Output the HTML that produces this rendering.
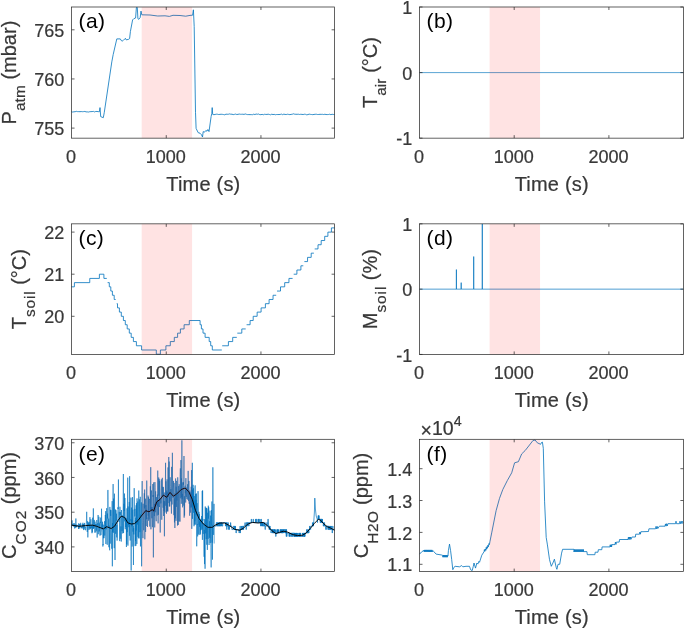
<!DOCTYPE html>
<html><head><meta charset="utf-8"><title>Figure</title>
<style>
html,body{margin:0;padding:0;background:#fff}
svg{display:block;will-change:transform}
text{font-family:"Liberation Sans",Arial,Helvetica,sans-serif;fill:#383838}
.tk{font-size:18px;stroke:#383838;stroke-width:.22px}
.lb{font-size:20px;stroke:#383838;stroke-width:.22px}
.sb{font-size:15.4px}
.pl{font-size:21px;fill:#000;letter-spacing:0.4px}
</style></head><body>
<svg width="685" height="629" viewBox="0 0 685 629">
<rect width="685" height="629" fill="#fff"/>
<polyline points="71.5,111.7 72.71,112.06 73.93,111.79 75.14,111.72 76.35,111.33 77.57,111.64 78.78,111.63 79.99,111.68 81.2,111.57 82.42,111.69 83.63,111.6 84.84,111.44 86.06,111.88 87.27,111.88 88.48,112.04 89.7,111.71 90.91,111.62 92.12,111.59 93.33,111.39 94.55,111.9 95.76,111.48 96.97,111.46 98.19,111.66 99.4,111.7 100,107.6 100.7,116.6 103.3,117.7 104.3,112.3 111.8,61.9 113.2,54.5 116.8,38.9 120.3,38.9 121.3,40.6 122.2,41.1 123.3,40.4 125.4,38.3 126.2,39.9 128.6,39.3 129.6,38.6 130.4,31.5 132.6,19.9 133.8,18.7 135.6,18 136.4,7.5 137.3,7.5 137.9,18.7 138.8,19.3 140.2,17.5 141,11.1 141.7,14.6 141.7,14.8 150,15 157.7,16 165,15.8 169.4,16.4 173,15.3 180,15.5 185.7,16.2 190,15.4 192.6,15.2 193.4,9.8 194.2,26.5 195.5,112.3 196.1,128.4 198.2,132.7 200,133.2 201.5,134.8 202.5,137 203.2,131.6 204.5,132.2 205.8,130.5 207,131.2 207.9,129.5 209,131.6 211.1,116.6 211.8,113.4 212.2,107.6 212.7,114.4 213.91,114.7 215.11,114.45 216.32,114.2 217.52,114.26 218.73,114.53 219.94,114.37 221.14,114.25 222.35,114.35 223.55,114.55 224.76,114.8 225.97,114.15 227.17,114.27 228.38,114.24 229.58,113.92 230.79,114.22 232,114.2 233.2,114.62 234.41,114.37 235.61,114.08 236.82,114.53 238.02,114.33 239.23,114.05 240.44,114.28 241.64,114.28 242.85,114.23 244.05,114.41 245.26,113.95 246.47,114.35 247.67,114.6 248.88,114.57 250.08,114.62 251.29,114.62 252.5,114.7 253.7,114.18 254.91,114.57 256.11,114.03 257.32,114.28 258.53,114.02 259.73,114.61 260.94,114.67 262.14,114.36 263.35,114.75 264.56,114.27 265.76,114.43 266.97,114.43 268.17,114.19 269.38,114.49 270.59,114.79 271.79,114.2 273,114.58 274.2,114.37 275.41,114.75 276.61,114.5 277.82,114.54 279.03,114.53 280.23,114.45 281.44,114.12 282.64,114.68 283.85,114.13 285.06,114.45 286.26,114.52 287.47,114.23 288.67,114.43 289.88,114.63 291.09,114.4 292.29,114.22 293.5,113.82 294.7,114.21 295.91,114.28 297.12,114.3 298.32,114.21 299.53,114.48 300.73,114.29 301.94,114.38 303.15,114.54 304.35,114.23 305.56,114.34 306.76,114.83 307.97,114.57 309.18,114.14 310.38,114.38 311.59,114.51 312.79,114.65 314,114.43 315.2,114.29 316.41,114.25 317.62,114.53 318.82,114.46 320.03,114.3 321.23,114.36 322.44,114.32 323.65,114.54 324.85,114.26 326.06,114.5 327.26,114.57 328.47,114.5 329.68,114.23 330.88,114.67 332.09,114.26 333.29,114.49 334.5,114.4" fill="none" stroke="#0072BD" stroke-width="0.8" stroke-linejoin="round" />
<polyline points="419.5,72.6 683.4,72.6" fill="none" stroke="#0072BD" stroke-width="0.65" stroke-linejoin="round" />
<polyline points="71.5,286.84 74.4,286.84 74.4,282.63 89.75,282.63 89.75,278.42 99.4,278.42 99.4,274.21 103.9,274.21 103.9,278.42 106.8,278.42" fill="none" stroke="#0072BD" stroke-width="0.8" stroke-linejoin="round" stroke-linejoin="miter"/>
<polyline points="107.6,282.63 109.3,282.63 109.3,286.84 110.8,286.84 110.8,291.05 112.4,291.05 112.4,295.26 114.2,295.26 114.2,299.47 115.7,299.47" fill="none" stroke="#0072BD" stroke-width="0.8" stroke-linejoin="round" stroke-linejoin="miter"/>
<polyline points="116.7,303.68 117.5,303.68 117.5,307.89 119.4,307.89 119.4,312.1 121.3,312.1 121.3,316.31 123.4,316.31 123.4,320.52 125.3,320.52 125.3,324.73 127.2,324.73 127.2,328.94 129.3,328.94 129.3,333.15 131.2,333.15 131.2,337.36 133.4,337.36 133.4,341.57 136.4,341.57 136.4,345.78 141.6,345.78 141.6,349.99 156.3,349.99 156.3,354.2 160.4,354.2 160.4,349.99 165.9,349.99 165.9,345.78 170.3,345.78 170.3,341.57 174.3,341.57 174.3,337.36 177.6,337.36 177.6,333.15 180.4,333.15 180.4,328.94 184.1,328.94 184.1,324.73 189.3,324.73 189.3,320.52 200.1,320.52 200.1,324.73 201.4,324.73 201.4,328.94 203,328.94 203,333.15 205.1,333.15 205.1,337.36 209.2,337.36 209.2,341.57 210.7,341.57 210.7,345.78 212.3,345.78 212.3,349.99 221.8,349.99" fill="none" stroke="#0072BD" stroke-width="0.8" stroke-linejoin="round" stroke-linejoin="miter"/>
<polyline points="222.2,345.78 228.4,345.78 228.4,341.57 232.7,341.57 232.7,337.36 236.8,337.36" fill="none" stroke="#0072BD" stroke-width="0.8" stroke-linejoin="round" stroke-linejoin="miter"/>
<polyline points="237.3,333.15 241.8,333.15 241.8,328.94 245.7,328.94" fill="none" stroke="#0072BD" stroke-width="0.8" stroke-linejoin="round" stroke-linejoin="miter"/>
<polyline points="246.6,324.73 250.1,324.73 250.1,320.52 253.2,320.52 253.2,316.31 257.15,316.31 257.15,312.1 261.1,312.1 261.1,307.89 265.4,307.89 265.4,303.68 269.1,303.68 269.1,299.47 273.05,299.47 273.05,295.26 276.2,295.26" fill="none" stroke="#0072BD" stroke-width="0.8" stroke-linejoin="round" stroke-linejoin="miter"/>
<polyline points="277,291.05 280.5,291.05 280.5,286.84 284.7,286.84 284.7,282.63 288.95,282.63 288.95,278.42 292.6,278.42" fill="none" stroke="#0072BD" stroke-width="0.8" stroke-linejoin="round" stroke-linejoin="miter"/>
<polyline points="293.7,274.21 296.9,274.21 296.9,270 300.9,270 300.9,265.79 303.3,265.79" fill="none" stroke="#0072BD" stroke-width="0.8" stroke-linejoin="round" stroke-linejoin="miter"/>
<polyline points="304.4,261.58 307.55,261.58 307.55,257.37 311.2,257.37 311.2,253.16 313.9,253.16" fill="none" stroke="#0072BD" stroke-width="0.8" stroke-linejoin="round" stroke-linejoin="miter"/>
<polyline points="314.7,248.95 318,248.95 318,244.74 321.2,244.74 321.2,240.53 324.7,240.53 324.7,236.32 327.9,236.32 327.9,232.11 331.4,232.11 331.4,227.9 334.5,227.9" fill="none" stroke="#0072BD" stroke-width="0.8" stroke-linejoin="round" stroke-linejoin="miter"/>
<polyline points="419.6,289.15 456.35,289.15 456.4,269.59 456.45,289.15 461.15,289.15 461.2,282.63 461.25,289.15 473.65,289.15 473.7,256.55 473.75,289.15 482.25,289.15 482.3,223.95 482.35,289.15 683.4,289.15" fill="none" stroke="#0072BD" stroke-width="0.7" stroke-linejoin="round" />
<polyline points="71.5,528.26 71.69,524.61 71.88,524.28 72.07,520.38 72.26,525.21 72.45,524.67 72.64,524.31 72.83,525.89 73.02,526.12 73.21,523.43 73.4,523.78 73.59,524.57 73.78,526.74 73.97,526.53 74.16,523.12 74.35,523.49 74.54,526.96 74.73,528.54 74.92,525.6 75.11,524.41 75.3,527.76 75.49,525.17 75.68,527.13 75.87,518.5 76.06,527.02 76.25,526.01 76.44,527.28 76.63,524.72 76.82,525.63 77.01,524.91 77.2,525.64 77.39,525.13 77.58,525.73 77.77,525.39 77.96,526.32 78.15,526.3 78.34,526.77 78.53,528.92 78.72,523.31 78.91,528.78 79.1,525.82 79.29,523.89 79.48,525.65 79.67,526.4 79.86,528.26 80.05,524.13 80.24,526.58 80.43,526.37 80.62,522.85 80.81,523.79 81,527.25 81.19,527.42 81.38,528.17 81.57,527.07 81.76,527.39 81.95,526.22 82.14,528.34 82.33,524.28 82.52,525.64 82.71,526.66 82.9,522.76 83.09,528.46 83.28,524.27 83.47,525.68 83.66,530.09 83.85,524.13 84.04,524.68 84.23,529.37 84.42,522.92 84.61,524.47 84.8,527.3 84.99,527.21 85.18,527.68 85.37,526.9 85.56,530.23 85.75,529.09 85.94,527.63 86.13,523.2 86.32,523.07 86.51,518.91 86.7,511.8 86.89,519.15 87.08,528.56 87.27,531.93 87.46,521.74 87.65,521.15 87.84,537.4 88.03,528.35 88.22,522.36 88.41,524.93 88.6,523.52 88.79,524.47 88.98,529.94 89.17,521.9 89.36,525.58 89.55,526.28 89.74,528.37 89.93,517.16 90.12,529.27 90.31,526.82 90.5,528.39 90.69,525.48 90.88,519.27 91.07,522.84 91.26,528.15 91.45,525.3 91.64,524.97 91.83,531.68 92.02,533.19 92.21,524.97 92.4,532.23 92.59,517.84 92.78,517.67 92.97,528.49 93.16,524.36 93.35,508.4 93.54,528.87 93.73,525.16 93.92,528.08 94.11,526.6 94.3,519.91 94.49,526.52 94.68,527 94.87,532.69 95.06,521.6 95.25,526.02 95.44,524.35 95.63,525.5 95.82,532.35 96.01,527.56 96.2,524.09 96.39,527 96.58,530.66 96.77,520 96.96,524.55 97.15,537.57 97.34,532.79 97.53,526.29 97.72,523.13 97.91,525.61 98.1,514.98 98.29,534.21 98.48,529.66 98.67,528.16 98.86,516.75 99.05,521.42 99.24,531.5 99.43,529.49 99.62,523.28 99.81,531.78 100,535.61 100.19,521.82 100.38,523.09 100.57,520.13 100.76,517.58 100.95,535.12 101.14,532.66 101.33,531.21 101.52,508.72 101.71,518.45 101.9,527.68 102.09,524.45 102.28,529.62 102.47,521.74 102.66,535.03 102.85,546.51 103.04,544.22 103.23,545.07 103.42,529.61 103.61,538.22 103.8,524.73 103.99,538.12 104.18,524.39 104.37,523.06 104.56,521.22 104.75,535.56 104.94,530.87 105.13,529.79 105.32,514.99 105.51,529.08 105.7,511.15 105.89,544 106.08,525.61 106.27,529.23 106.46,525.64 106.65,508.19 106.84,510.57 107.03,526.5 107.22,544.79 107.41,513.52 107.6,518.48 107.79,490.6 107.98,489.95 108.17,506.19 108.36,522.21 108.55,526.87 108.74,518.63 108.93,547.22 109.12,525.55 109.31,532.42 109.5,548.69 109.69,550.3 109.88,506.92 110.07,523.03 110.26,543.62 110.45,509.79 110.64,515.92 110.83,510.97 111.02,510.15 111.21,513.25 111.4,530.75 111.59,545.36 111.78,548.76 111.97,528.15 112.16,501.15 112.35,566.3 112.54,522.99 112.73,532.28 112.92,524.22 113.11,484.06 113.3,532.76 113.49,498.61 113.68,517.37 113.87,531.01 114.06,531.42 114.25,548.16 114.44,493.67 114.63,530.79 114.82,535.34 115.01,560 115.2,534.03 115.39,509.47 115.58,533.7 115.77,531.74 115.96,510.14 116.15,514.23 116.34,520.6 116.53,513.72 116.72,537.37 116.91,524.8 117.1,540.61 117.29,538.35 117.48,522.26 117.67,518.33 117.86,507.29 118.05,509.03 118.24,508.82 118.43,479.5 118.62,507.13 118.81,521.46 119,521.94 119.19,511.87 119.38,516.03 119.57,539.02 119.76,541.13 119.95,506.75 120.14,514.87 120.33,512.08 120.52,513.2 120.71,538.74 120.9,526.39 121.09,534.3 121.28,541.55 121.47,510.02 121.66,513.7 121.85,517.01 122.04,531.13 122.23,515.28 122.42,525.85 122.61,533.36 122.8,533.36 122.99,523.22 123.18,505.68 123.37,474 123.56,533.04 123.75,523.63 123.94,503.84 124.13,510.07 124.32,510.94 124.51,493.55 124.7,521.31 124.89,497.96 125.08,514.14 125.27,529.19 125.46,517.59 125.65,527 125.84,525.59 126.03,520.68 126.22,520.88 126.41,547.02 126.6,518.36 126.79,544.3 126.98,508.39 127.17,532.11 127.36,524.46 127.55,511.94 127.74,477.64 127.93,545.64 128.12,506.51 128.31,509.31 128.5,524.95 128.69,523.98 128.88,527.2 129.07,519.67 129.26,501.98 129.45,535.77 129.64,476.2 129.83,526.73 130.02,531.79 130.21,540.51 130.4,520.63 130.59,519.45 130.78,520.54 130.97,497.62 131.16,570.5 131.35,509.7 131.54,507.62 131.73,526.32 131.92,519.49 132.11,546.56 132.3,545 132.49,497.13 132.68,525.56 132.87,509.6 133.06,531.66 133.25,525.99 133.44,565 133.63,528.11 133.82,534.46 134.01,519.43 134.2,488.15 134.39,506.85 134.58,511.44 134.77,516.44 134.96,508.9 135.15,546.12 135.34,520.51 135.53,541.02 135.72,517.78 135.91,545.74 136.1,505.31 136.29,530.53 136.48,503.16 136.67,527.98 136.86,543.94 137.05,498.41 137.24,508.99 137.43,524.55 137.62,518.32 137.81,501.52 138,536.83 138.19,521.04 138.38,538.22 138.57,524.26 138.76,490.55 138.95,512.51 139.14,538.4 139.33,499.31 139.52,506.8 139.71,526.65 139.9,532.2 140.09,529.31 140.28,496.81 140.47,546.41 140.66,514.63 140.85,516.85 141.04,516.38 141.23,512.92 141.42,502.41 141.61,566.3 141.8,533.94 141.99,496.21 142.18,481.05 142.37,522.24 142.56,522.97 142.75,532.47 142.94,538.15 143.13,503.73 143.32,516.08 143.51,520.38 143.7,530.29 143.89,527.19 144.08,500.95 144.27,493.29 144.46,508.42 144.65,489.56 144.84,539.34 145.03,506.03 145.22,506.34 145.41,498.7 145.6,531.97 145.79,514.72 145.98,505.07 146.17,526.03 146.36,509.74 146.55,519.21 146.74,480.6 146.93,507.44 147.12,518.26 147.31,517.85 147.5,526.99 147.69,519.58 147.88,511.87 148.07,495.59 148.26,515.62 148.45,497.16 148.64,520.72 148.83,512.56 149.02,519.36 149.21,504.49 149.4,500.48 149.59,498.83 149.78,526.55 149.97,508.15 150.16,505.37 150.35,486.27 150.54,510.02 150.73,467.18 150.92,529.32 151.11,507.1 151.3,510.6 151.49,490.51 151.68,494.97 151.87,518.27 152.06,506.95 152.25,515.61 152.44,527.16 152.63,519.04 152.82,484 153.01,496.85 153.2,495.02 153.39,557.4 153.58,482.52 153.77,482.42 153.96,499.86 154.15,501.29 154.34,516.07 154.53,503.91 154.72,527.38 154.91,482.06 155.1,487.48 155.29,512.22 155.48,501.72 155.67,491.29 155.86,514.92 156.05,518.74 156.24,521.22 156.43,497.1 156.62,501.92 156.81,504.83 157,502.35 157.19,515.49 157.38,494.53 157.57,506.26 157.76,470.58 157.95,511.3 158.14,523.35 158.33,500.27 158.52,514.79 158.71,477.48 158.9,495.65 159.09,478.86 159.28,504.37 159.47,507.04 159.66,480.83 159.85,487.91 160.04,491.36 160.23,532.55 160.42,497.93 160.61,500.35 160.8,503.41 160.99,502.3 161.18,494.66 161.37,479.37 161.56,488.1 161.75,519.73 161.94,500.5 162.13,491.59 162.32,477.84 162.51,495.46 162.7,496.42 162.89,486.75 163.08,507.78 163.27,487.14 163.46,492.8 163.65,516.01 163.84,500.89 164.03,510.97 164.22,492.47 164.41,536.3 164.6,502.33 164.79,501.29 164.98,512.47 165.17,501.86 165.36,496.03 165.55,462.8 165.74,505.68 165.93,481.34 166.12,494.94 166.31,492.43 166.5,513.7 166.69,490.61 166.88,511.68 167.07,479.33 167.26,495.1 167.45,510.89 167.64,492.31 167.83,511.5 168.02,467.41 168.21,495.43 168.4,497 168.59,492.76 168.78,457.03 168.97,503.11 169.16,461.55 169.35,506.43 169.54,497.1 169.73,506.4 169.92,489.02 170.11,477.22 170.3,480.02 170.49,486.56 170.68,501.41 170.87,489.09 171.06,499.31 171.25,500.48 171.44,513.6 171.63,466.87 171.82,488.91 172.01,504.19 172.2,504.44 172.39,452.8 172.58,491.76 172.77,494.34 172.96,497.66 173.15,488.33 173.34,487.46 173.53,480.91 173.72,490.96 173.91,515.17 174.1,482.9 174.29,509.1 174.48,522.43 174.67,498.43 174.86,528.01 175.05,493.5 175.24,518.28 175.43,494.58 175.62,478.44 175.81,499.8 176,520.87 176.19,486.7 176.38,506.91 176.57,480.87 176.76,482.28 176.95,500.55 177.14,491.56 177.33,501.71 177.52,525.56 177.71,477.34 177.9,483.94 178.09,493.84 178.28,524.96 178.47,488.42 178.66,486.08 178.85,498.59 179.04,521.43 179.23,484.24 179.42,487.88 179.61,493.62 179.8,502.17 179.99,521.64 180.18,474.27 180.37,468.38 180.56,493.27 180.75,498.31 180.94,460.06 181.13,482.18 181.32,503.76 181.51,478.4 181.7,497.11 181.89,440.3 182.08,499.32 182.27,496.27 182.46,493.85 182.65,507.36 182.84,482.42 183.03,491.81 183.22,505.6 183.41,482.29 183.6,484.84 183.79,479.53 183.98,456 184.17,517.64 184.36,496.21 184.55,515.52 184.74,499.69 184.93,490.61 185.12,485.61 185.31,493.21 185.5,489.83 185.69,502.52 185.88,478.15 186.07,492.67 186.26,496.92 186.45,487.57 186.64,487.74 186.83,498.7 187.02,499.03 187.21,490.1 187.4,491.52 187.59,484.24 187.78,499.74 187.97,490.61 188.16,470.88 188.35,488.33 188.54,501.23 188.73,496.82 188.92,480.92 189.11,503.64 189.3,502.25 189.49,502.7 189.68,515.71 189.87,490.55 190.06,503.81 190.25,492.39 190.44,509.89 190.63,512.68 190.82,503.84 191.01,507.76 191.2,486.76 191.39,506.89 191.58,470.1 191.77,528.87 191.96,515.37 192.15,478.83 192.34,462.8 192.53,518.79 192.72,489.72 192.91,509.57 193.1,484.82 193.29,504.27 193.48,488.31 193.67,512.75 193.86,500.54 194.05,526.22 194.24,495.96 194.43,524.63 194.62,507.42 194.81,521.31 195,486.98 195.19,485.4 195.38,524.63 195.57,493.89 195.76,506.57 195.95,507.26 196.14,499.69 196.33,515.31 196.52,493.54 196.71,546.3 196.9,526.51 197.09,503.17 197.28,524.87 197.47,524.21 197.66,536.4 197.85,522.2 198.04,491.15 198.23,507.86 198.42,511.56 198.61,534.57 198.8,522.84 198.99,511.8 199.18,524.75 199.37,514.07 199.56,526.77 199.75,521.55 199.94,534.95 200.13,524.53 200.32,533.87 200.51,520.24 200.7,530.43 200.89,518.77 201.08,529.97 201.27,524.42 201.46,519.87 201.65,516.03 201.84,518.28 202.03,528.81 202.22,490.96 202.41,539.85 202.6,490.39 202.79,520.62 202.98,518.94 203.17,533.9 203.36,527.2 203.55,523.52 203.74,525.41 203.93,537.42 204.12,556.78 204.31,529.86 204.5,564.1 204.69,519.17 204.88,535.43 205.07,568.72 205.26,506.5 205.45,516.33 205.64,533.35 205.83,530.24 206.02,507.69 206.21,539.11 206.4,508.07 206.59,522.67 206.78,544.73 206.97,508.45 207.16,522.01 207.35,549.9 207.54,523.45 207.73,512.73 207.92,519.28 208.11,538.82 208.3,505.69 208.49,518.57 208.68,507.2 208.87,511.34 209.06,545.03 209.25,526.14 209.44,521.24 209.63,537.78 209.82,517.44 210.01,510.69 210.2,543.1 210.39,539.4 210.58,515.61 210.77,537 210.96,547.41 211.15,567.4 211.34,534.19 211.53,510.16 211.72,525.44 211.91,501.47 212.1,542.64 212.29,524.9 212.48,559.6 212.67,516.41 212.86,467.3 213.05,505.13 213.24,521.05 213.43,533.79 213.62,534.83 213.81,525.32 214,503.87 214.19,543.51" fill="none" stroke="#0072BD" stroke-width="0.6" stroke-linejoin="round" />
<polyline points="214.2,526.07 216.1,526.07 216.29,526.07 216.29,522.6 216.67,522.6 216.86,522.6 216.86,526.07 217.05,526.07 217.05,522.6 217.24,522.6 217.24,526.07 217.62,526.07 217.81,526.07 217.81,522.6 218,522.6 218,526.07 218.19,526.07 218.19,522.6 218.38,522.6 218.57,522.6 218.57,526.07 219.14,526.07 219.33,526.07 219.33,522.6 219.52,522.6 219.52,526.07 219.71,526.07 219.71,522.6 219.9,522.6 219.9,526.07 220.28,526.07 220.47,526.07 220.47,522.6 220.66,522.6 220.85,522.6 220.85,526.07 221.04,526.07 221.04,522.6 221.42,522.6 221.61,522.6 221.61,526.07 221.8,526.07 221.8,522.6 221.99,522.6 221.99,526.07 222.56,526.07 222.75,526.07 222.75,522.6 225.22,522.6 225.41,522.6 225.41,526.07 225.6,526.07 225.6,522.6 225.79,522.6 225.98,522.6 225.98,526.07 226.36,526.07 226.55,526.07 226.55,522.6 226.74,522.6 226.74,529.54 226.93,529.54 226.93,522.6 227.12,522.6 227.12,526.07 227.88,526.07 228.07,526.07 228.07,522.6 228.26,522.6 228.26,526.07 228.45,526.07 228.64,526.07 228.64,529.54 228.83,529.54 228.83,526.07 229.02,526.07 229.21,526.07 229.21,529.54 229.4,529.54 229.4,526.07 230.35,526.07 230.54,526.07 230.54,522.6 230.73,522.6 230.73,526.07 231.68,526.07 231.87,526.07 231.87,529.54 233.39,529.54 233.58,529.54 233.58,526.07 233.77,526.07 233.96,526.07 233.96,529.54 234.34,529.54 234.53,529.54 234.53,526.07 234.72,526.07 234.91,526.07 234.91,529.54 235.1,529.54 235.29,529.54 235.29,526.07 235.48,526.07 235.48,529.54 235.86,529.54 236.05,529.54 236.05,533.01 236.24,533.01 236.24,529.54 238.9,529.54 239.09,529.54 239.09,533.01 239.28,533.01 239.28,529.54 239.85,529.54 240.04,529.54 240.04,526.07 240.23,526.07 240.23,533.01 240.42,533.01 240.42,529.54 241.18,529.54 241.37,529.54 241.37,526.07 241.56,526.07 241.56,529.54 241.94,529.54 242.13,529.54 242.13,526.07 242.32,526.07 242.51,526.07 242.51,529.54 243.08,529.54 243.27,529.54 243.27,526.07 243.46,526.07 243.46,529.54 243.65,529.54 243.65,526.07 244.79,526.07 244.98,526.07 244.98,522.6 245.17,522.6 245.17,526.07 245.93,526.07 246.12,526.07 246.12,529.54 246.31,529.54 246.31,522.6 246.69,522.6 246.88,522.6 246.88,526.07 247.07,526.07 247.07,522.6 247.45,522.6 247.64,522.6 247.64,526.07 247.83,526.07 247.83,522.6 248.59,522.6 248.78,522.6 248.78,526.07 248.97,526.07 248.97,522.6 251.06,522.6 251.25,522.6 251.25,519.12 251.44,519.12 251.44,522.6 252.96,522.6 253.15,522.6 253.15,519.12 253.34,519.12 253.34,522.6 255.24,522.6 255.43,522.6 255.43,519.12 255.62,519.12 255.62,522.6 256.19,522.6 256.38,522.6 256.38,519.12 256.57,519.12 256.76,519.12 256.76,522.6 257.9,522.6 258.09,522.6 258.09,519.12 258.28,519.12 258.28,522.6 258.47,522.6 258.66,522.6 258.66,519.12 258.85,519.12 258.85,522.6 259.61,522.6 259.8,522.6 259.8,519.12 259.99,519.12 259.99,522.6 260.37,522.6 260.56,522.6 260.56,526.07 260.75,526.07 260.75,522.6 260.94,522.6 261.13,522.6 261.13,519.12 261.32,519.12 261.32,526.07 261.51,526.07 261.51,522.6 262.08,522.6 262.27,522.6 262.27,526.07 262.46,526.07 262.46,522.6 262.65,522.6 262.65,526.07 262.84,526.07 262.84,522.6 263.22,522.6 263.41,522.6 263.41,526.07 263.98,526.07 264.17,526.07 264.17,522.6 264.36,522.6 264.36,526.07 264.55,526.07 264.74,526.07 264.74,522.6 264.93,522.6 265.12,522.6 265.12,529.54 265.31,529.54 265.31,526.07 266.64,526.07 266.83,526.07 266.83,522.6 267.02,522.6 267.21,522.6 267.21,526.07 267.78,526.07 267.97,526.07 267.97,519.12 268.16,519.12 268.16,522.6 268.35,522.6 268.35,526.07 268.92,526.07 269.11,526.07 269.11,529.54 269.3,529.54 269.3,526.07 269.49,526.07 269.68,526.07 269.68,529.54 269.87,529.54 269.87,526.07 270.06,526.07 270.06,529.54 270.82,529.54 271.01,529.54 271.01,533.01 271.2,533.01 271.2,529.54 272.15,529.54 272.34,529.54 272.34,533.01 272.53,533.01 272.53,529.54 272.72,529.54 272.72,533.01 272.91,533.01 272.91,529.54 273.1,529.54 273.1,533.01 273.48,533.01 273.67,533.01 273.67,529.54 273.86,529.54 273.86,533.01 274.05,533.01 274.24,533.01 274.24,529.54 274.43,529.54 274.43,533.01 274.62,533.01 274.62,529.54 274.81,529.54 274.81,533.01 275,533.01 275.19,533.01 275.19,529.54 275.38,529.54 275.38,533.01 275.57,533.01 275.76,533.01 275.76,536.48 275.95,536.48 275.95,533.01 276.71,533.01 276.9,533.01 276.9,529.54 277.09,529.54 277.09,533.01 277.28,533.01 277.28,529.54 277.47,529.54 277.47,533.01 277.66,533.01 277.85,533.01 277.85,529.54 278.04,529.54 278.04,533.01 278.23,533.01 278.42,533.01 278.42,529.54 278.61,529.54 278.61,533.01 279.75,533.01 279.94,533.01 279.94,529.54 280.32,529.54 280.51,529.54 280.51,533.01 280.7,533.01 280.7,529.54 280.89,529.54 280.89,533.01 281.08,533.01 281.27,533.01 281.27,529.54 281.46,529.54 281.46,533.01 281.65,533.01 281.84,533.01 281.84,529.54 282.03,529.54 282.03,533.01 282.22,533.01 282.41,533.01 282.41,529.54 282.6,529.54 282.6,533.01 282.79,533.01 282.98,533.01 282.98,529.54 283.17,529.54 283.17,533.01 283.36,533.01 283.36,529.54 283.74,529.54 283.93,529.54 283.93,533.01 284.12,533.01 284.12,529.54 284.88,529.54 285.07,529.54 285.07,533.01 285.26,533.01 285.26,529.54 285.45,529.54 285.45,533.01 285.83,533.01 286.02,533.01 286.02,529.54 286.21,529.54 286.21,536.48 286.4,536.48 286.4,529.54 286.59,529.54 286.59,533.01 286.78,533.01 286.78,536.48 286.97,536.48 286.97,533.01 288.87,533.01 289.06,533.01 289.06,536.48 289.25,536.48 289.25,533.01 289.44,533.01 289.44,536.48 289.63,536.48 289.63,533.01 290.39,533.01 290.58,533.01 290.58,536.48 290.96,536.48 291.15,536.48 291.15,533.01 291.53,533.01 291.72,533.01 291.72,536.48 291.91,536.48 292.1,536.48 292.1,533.01 292.29,533.01 292.29,536.48 292.48,536.48 292.48,533.01 293.62,533.01 293.81,533.01 293.81,536.48 294,536.48 294,533.01 294.19,533.01 294.19,536.48 294.38,536.48 294.38,533.01 294.57,533.01 294.57,536.48 294.76,536.48 294.76,533.01 294.95,533.01 294.95,536.48 295.14,536.48 295.14,533.01 295.33,533.01 295.33,536.48 295.71,536.48 295.9,536.48 295.9,533.01 296.09,533.01 296.09,536.48 296.28,536.48 296.28,533.01 296.47,533.01 296.47,536.48 296.66,536.48 296.85,536.48 296.85,533.01 297.04,533.01 297.04,536.48 297.23,536.48 297.23,533.01 297.42,533.01 297.42,536.48 298.56,536.48 298.75,536.48 298.75,533.01 298.94,533.01 298.94,536.48 299.13,536.48 299.32,536.48 299.32,533.01 299.51,533.01 299.51,536.48 299.7,536.48 299.7,533.01 300.08,533.01 300.27,533.01 300.27,536.48 300.46,536.48 300.46,533.01 300.65,533.01 300.65,536.48 302.17,536.48 302.36,536.48 302.36,533.01 302.55,533.01 302.55,536.48 302.74,536.48 302.93,536.48 302.93,533.01 303.12,533.01 303.31,533.01 303.31,536.48 303.69,536.48 303.88,536.48 303.88,533.01 304.07,533.01 304.07,536.48 304.26,536.48 304.26,533.01 304.45,533.01 304.45,536.48 304.64,536.48 304.64,533.01 304.83,533.01 304.83,536.48 305.02,536.48 305.02,533.01 306.54,533.01 306.73,533.01 306.73,529.54 306.92,529.54 306.92,533.01 307.11,533.01 307.11,529.54 307.3,529.54 307.3,533.01 308.06,533.01 308.25,533.01 308.25,529.54 308.44,529.54 308.63,529.54 308.63,533.01 308.82,533.01 309.01,533.01 309.01,529.54 309.39,529.54 309.58,529.54 309.58,526.07 309.77,526.07 309.77,529.54 310.53,529.54 310.72,529.54 310.72,526.07 312.24,526.07 312.43,526.07 312.43,522.6 312.62,522.6 312.62,526.07 313,526.07 313.19,526.07 313.19,522.6 313.38,522.6 313.38,526.07 313.6,524.5 314.4,512 314.8,498.1 315.4,509 316.2,516 317.2,519 317.56,522.6 317.56,519.12 317.94,519.12 318.13,519.12 318.13,515.65 318.32,515.65 318.32,519.12 318.51,519.12 318.51,515.65 318.7,515.65 318.7,519.12 318.89,519.12 318.89,515.65 319.08,515.65 319.08,519.12 320.03,519.12 320.22,519.12 320.22,522.6 320.41,522.6 320.41,519.12 320.6,519.12 320.79,519.12 320.79,522.6 320.98,522.6 320.98,519.12 321.36,519.12 321.55,519.12 321.55,522.6 321.74,522.6 321.74,519.12 321.93,519.12 321.93,522.6 322.12,522.6 322.31,522.6 322.31,519.12 322.5,519.12 322.5,522.6 323.07,522.6 323.26,522.6 323.26,526.07 323.45,526.07 323.64,526.07 323.64,522.6 323.83,522.6 323.83,526.07 324.02,526.07 324.21,526.07 324.21,522.6 324.4,522.6 324.59,522.6 324.59,526.07 325.54,526.07 325.73,526.07 325.73,529.54 325.92,529.54 325.92,526.07 326.68,526.07 326.87,526.07 326.87,529.54 327.06,529.54 327.06,526.07 328.2,526.07 328.39,526.07 328.39,529.54 328.58,529.54 328.58,526.07 328.77,526.07 328.77,529.54 328.96,529.54 329.15,529.54 329.15,526.07 329.34,526.07 329.34,529.54 329.72,529.54 329.91,529.54 329.91,526.07 330.1,526.07 330.1,529.54 330.29,529.54 330.48,529.54 330.48,526.07 330.67,526.07 330.67,529.54 331.24,529.54 331.43,529.54 331.43,526.07 331.62,526.07 331.62,529.54 332,529.54 332.19,529.54 332.19,533.01 332.38,533.01 332.38,529.54 332.57,529.54 332.76,529.54 332.76,526.07 332.95,526.07 332.95,529.54 334.47,529.54" fill="none" stroke="#0072BD" stroke-width="0.7" stroke-linejoin="round" />
<polyline points="71.5,525.1 78.9,526.3 85.6,525.6 92.3,525.1 96.7,526.3 103.4,528.9 106.7,526.7 111.2,528.5 114.5,526.3 117.9,520.7 121.2,516.2 124.5,517.4 127.9,522.9 131.2,524 134.5,523.6 137.9,520.7 141.2,516.2 145.7,510.7 149,511.8 152.4,509.6 153.6,511.2 156.7,501.8 160,499.5 163.4,495.1 166.7,497.3 170,492.4 173.4,496.2 176.7,494 181.2,489.5 185.2,488 188.9,491.8 192.3,499.5 195.6,510.7 199,518.5 203.4,524 207.9,527.3 212.3,527.3 214.9,525.3 219.8,523 224.7,523 229.6,525.7 234.6,529.3 239.5,530.3 243.4,528.3 247.4,524.3 252.3,522.4 258.2,523 263.1,522.4 267.1,525.3 272,530.8 275.9,533.6 279.9,532.2 283.8,531.2 287.8,532.2 292.7,534.6 297.6,535.6 302.6,535.2 306.5,532.8 310.4,528.3 314.4,523.4 318.3,519.4 320.3,520 323.3,523.4 327.2,526.7 331.1,528.3 334.5,530.3" fill="none" stroke="#000" stroke-width="0.95" stroke-linejoin="round" />
<polyline points="419.6,554.1 421.7,551.8 423.9,550.3 424.2,551.9 424.65,549.9 425.1,551.9 425.55,549.9 426,551.9 426.45,549.9 426.9,551.9 427.35,549.9 427.8,551.9 428.25,549.9 428.7,551.9 429.15,549.9 429.6,551.9 430.05,549.9 430.5,551.9 430.95,549.9 431.4,551.9 431.85,549.9 432.3,551.9 432.8,550.5 434,551.8 436.1,554.1 441.7,555 442.6,555.3 442.9,557.2 443.35,555 443.8,557.2 444.25,555 444.7,557.2 445.15,555 445.6,557.2 446.05,555 446.5,557.2 446.95,555 447.4,557.2 447.85,555 448,555.4 448.4,550.7 449.5,544.1 450.6,550.7 451.7,559.6 452.8,569.7 453.9,567.4 455.1,566.3 459.5,566.8 461.7,565.6 462.9,566.8 466,566.3 469.5,566.3 470.6,569.7 472.2,570.6 473.3,566.3 474,563 475.5,568.1 476.9,563 477.8,564.1 478.9,561.4 479.5,562.3 481.8,555.2 484,551.8 484.4,549.6 484.8,551.4 485.3,549 485.8,550.4 486.2,547.4 486.6,549.2 487,546.6 487.5,548.2 487.9,545.2 488.4,546.8 488.9,543.6 489.4,544.6 489.9,541.8 491.7,532.9 496.1,510.7 499.5,498.4 502.8,489.5 507.3,480.6 511.7,472.8 514.6,462.8 518.4,461.7 521.7,453.9 525.1,450.6 529.5,445 532.9,440.6 535.1,440 537.3,442.8 540.6,444.3 541.5,442.5 542.4,442.1 543.3,448.4 544.6,501.8 546.2,537.4 547.3,544.1 549.5,559.6 551.3,566.3 552.9,563 554.4,559.2 556.2,567.4 556.9,569.3 558,564.3 559.7,564.3 561.6,553.1 562.6,549.3 574,549.3 574,549.3 574,552 574.5,549.5 575,552 575.5,549.5 576,552 576.5,549.5 577,552 577.5,549.5 578,552 578.5,549.5 579,552 579.5,549.5 580,552 580.5,549.5 581,552 581.5,549.5 582,552 582.5,549.5 583,552 583.5,549.5 583.5,551.6 586.9,551.6 587.3,554.7 594.9,554.7 595.2,552.2 598,552.2 598.3,549.7 601.8,549.7 602.1,546.9 610,546.9 610.2,544.8 610.6,546.9 611.2,544.6 611.6,546.9 611.9,544.6 615,544.6 615.4,542.1 616,544.4 616.4,542.1 619.2,542.1 619.5,539.5 628,539.5 628.4,537.2 628.8,539.5 629.4,537 629.9,539.5 630.4,537 631,539.3 631.9,537 635.4,537 635.7,534.2 639.5,534.2 639.9,532 640.4,534.2 640.9,531.7 643,531.7 648.5,531.5 648.9,528.8 655.5,528.8 656,526.4 656.5,528.8 657.2,526.4 657.8,528.6 659.4,526.2 665,526.2 665.5,523.9 666,526.2 666.6,523.7 667.2,526 667.9,523.7 675.5,523.7 676,521.2 676.5,523.7 679.5,523.7 680,521.2 680.5,523.7 681.5,521.4 682,523.7 682.5,521.4 683.4,522.4" fill="none" stroke="#0072BD" stroke-width="0.8" stroke-linejoin="round" />
<rect x="141.65" y="7" width="50.45" height="131.15" fill="#FF0000" fill-opacity="0.11"/>
<rect x="141.65" y="223.85" width="50.45" height="130.6" fill="#FF0000" fill-opacity="0.11"/>
<rect x="141.65" y="439.3" width="50.45" height="132.3" fill="#FF0000" fill-opacity="0.11"/>
<rect x="489.6" y="7" width="50.45" height="131.15" fill="#FF0000" fill-opacity="0.11"/>
<rect x="489.6" y="223.85" width="50.45" height="130.6" fill="#FF0000" fill-opacity="0.11"/>
<rect x="489.6" y="439.3" width="50.45" height="132.3" fill="#FF0000" fill-opacity="0.11"/>
<text x="71.05" y="163" class="tk" text-anchor="middle">0</text>
<path d="M166.25,138.15v-3.0M166.25,7v3.0" stroke="#262626" stroke-width="0.72"/>
<text x="165.75" y="163" class="tk" text-anchor="middle">1000</text>
<path d="M260.95,138.15v-3.0M260.95,7v3.0" stroke="#262626" stroke-width="0.72"/>
<text x="260.45" y="163" class="tk" text-anchor="middle">2000</text>
<path d="M71.55,29.8h3.0M334.6,29.8h-3.0" stroke="#262626" stroke-width="0.72"/>
<text x="64.35" y="36.9" class="tk" text-anchor="end">765</text>
<path d="M71.55,78.95h3.0M334.6,78.95h-3.0" stroke="#262626" stroke-width="0.72"/>
<text x="64.35" y="86.05" class="tk" text-anchor="end">760</text>
<path d="M71.55,128.1h3.0M334.6,128.1h-3.0" stroke="#262626" stroke-width="0.72"/>
<text x="64.35" y="135.2" class="tk" text-anchor="end">755</text>
<rect x="71.55" y="7" width="263.05" height="131.15" fill="none" stroke="#262626" stroke-width="0.72"/>
<text x="203.38" y="190.75" class="lb" text-anchor="middle" letter-spacing="0.2">Time (s)</text>
<text x="78.55" y="28.4" class="pl">(a)</text>
<text transform="translate(16,72.58) rotate(-90)" class="lb" text-anchor="middle">P<tspan class="sb" dy="9.2" letter-spacing="0.1">atm</tspan><tspan dy="-9.2"> </tspan>(mbar)</text>
<text x="419" y="163" class="tk" text-anchor="middle">0</text>
<path d="M514.2,138.15v-3.0M514.2,7v3.0" stroke="#262626" stroke-width="0.72"/>
<text x="513.7" y="163" class="tk" text-anchor="middle">1000</text>
<path d="M608.9,138.15v-3.0M608.9,7v3.0" stroke="#262626" stroke-width="0.72"/>
<text x="608.4" y="163" class="tk" text-anchor="middle">2000</text>
<path d="M419.5,7h3.0M683.4,7h-3.0" stroke="#262626" stroke-width="0.72"/>
<text x="412.3" y="14.1" class="tk" text-anchor="end">1</text>
<path d="M419.5,72.6h3.0M683.4,72.6h-3.0" stroke="#262626" stroke-width="0.72"/>
<text x="412.3" y="79.7" class="tk" text-anchor="end">0</text>
<path d="M419.5,138.15h3.0M683.4,138.15h-3.0" stroke="#262626" stroke-width="0.72"/>
<text x="412.3" y="145.25" class="tk" text-anchor="end">-1</text>
<rect x="419.5" y="7" width="263.9" height="131.15" fill="none" stroke="#262626" stroke-width="0.72"/>
<text x="551.75" y="190.75" class="lb" text-anchor="middle" letter-spacing="0.2">Time (s)</text>
<text x="426.5" y="28.4" class="pl">(b)</text>
<text transform="translate(376.9,72.58) rotate(-90)" class="lb" text-anchor="middle">T<tspan class="sb" dy="9.2" letter-spacing="0.1">air</tspan><tspan dy="-9.2"> </tspan>(°C)</text>
<text x="71.05" y="379.3" class="tk" text-anchor="middle">0</text>
<path d="M166.25,354.45v-3.0M166.25,223.85v3.0" stroke="#262626" stroke-width="0.72"/>
<text x="165.75" y="379.3" class="tk" text-anchor="middle">1000</text>
<path d="M260.95,354.45v-3.0M260.95,223.85v3.0" stroke="#262626" stroke-width="0.72"/>
<text x="260.45" y="379.3" class="tk" text-anchor="middle">2000</text>
<path d="M71.55,232.1h3.0M334.6,232.1h-3.0" stroke="#262626" stroke-width="0.72"/>
<text x="64.35" y="239.2" class="tk" text-anchor="end">22</text>
<path d="M71.55,274.2h3.0M334.6,274.2h-3.0" stroke="#262626" stroke-width="0.72"/>
<text x="64.35" y="281.3" class="tk" text-anchor="end">21</text>
<path d="M71.55,316.3h3.0M334.6,316.3h-3.0" stroke="#262626" stroke-width="0.72"/>
<text x="64.35" y="323.4" class="tk" text-anchor="end">20</text>
<rect x="71.55" y="223.85" width="263.05" height="130.6" fill="none" stroke="#262626" stroke-width="0.72"/>
<text x="203.38" y="407.05" class="lb" text-anchor="middle" letter-spacing="0.2">Time (s)</text>
<text x="78.55" y="245.25" class="pl">(c)</text>
<text transform="translate(26,289.15) rotate(-90)" class="lb" text-anchor="middle">T<tspan class="sb" dy="9.2" letter-spacing="0.9">soil</tspan><tspan dy="-9.2"> </tspan>(°C)</text>
<text x="419" y="379.3" class="tk" text-anchor="middle">0</text>
<path d="M514.2,354.45v-3.0M514.2,223.85v3.0" stroke="#262626" stroke-width="0.72"/>
<text x="513.7" y="379.3" class="tk" text-anchor="middle">1000</text>
<path d="M608.9,354.45v-3.0M608.9,223.85v3.0" stroke="#262626" stroke-width="0.72"/>
<text x="608.4" y="379.3" class="tk" text-anchor="middle">2000</text>
<path d="M419.5,223.85h3.0M683.4,223.85h-3.0" stroke="#262626" stroke-width="0.72"/>
<text x="412.3" y="230.95" class="tk" text-anchor="end">1</text>
<path d="M419.5,289.15h3.0M683.4,289.15h-3.0" stroke="#262626" stroke-width="0.72"/>
<text x="412.3" y="296.25" class="tk" text-anchor="end">0</text>
<path d="M419.5,354.45h3.0M683.4,354.45h-3.0" stroke="#262626" stroke-width="0.72"/>
<text x="412.3" y="361.55" class="tk" text-anchor="end">-1</text>
<rect x="419.5" y="223.85" width="263.9" height="130.6" fill="none" stroke="#262626" stroke-width="0.72"/>
<text x="551.75" y="407.05" class="lb" text-anchor="middle" letter-spacing="0.2">Time (s)</text>
<text x="426.5" y="245.25" class="pl">(d)</text>
<text transform="translate(377.2,289.15) rotate(-90)" class="lb" text-anchor="middle">M<tspan class="sb" dy="9.2" letter-spacing="0.9">soil</tspan><tspan dy="-9.2"> </tspan>(%)</text>
<text x="71.05" y="596.45" class="tk" text-anchor="middle">0</text>
<path d="M166.25,571.6v-3.0M166.25,439.3v3.0" stroke="#262626" stroke-width="0.72"/>
<text x="165.75" y="596.45" class="tk" text-anchor="middle">1000</text>
<path d="M260.95,571.6v-3.0M260.95,439.3v3.0" stroke="#262626" stroke-width="0.72"/>
<text x="260.45" y="596.45" class="tk" text-anchor="middle">2000</text>
<path d="M71.55,442.75h3.0M334.6,442.75h-3.0" stroke="#262626" stroke-width="0.72"/>
<text x="64.35" y="449.85" class="tk" text-anchor="end">370</text>
<path d="M71.55,477.45h3.0M334.6,477.45h-3.0" stroke="#262626" stroke-width="0.72"/>
<text x="64.35" y="484.55" class="tk" text-anchor="end">360</text>
<path d="M71.55,512.2h3.0M334.6,512.2h-3.0" stroke="#262626" stroke-width="0.72"/>
<text x="64.35" y="519.3" class="tk" text-anchor="end">350</text>
<path d="M71.55,546.9h3.0M334.6,546.9h-3.0" stroke="#262626" stroke-width="0.72"/>
<text x="64.35" y="554" class="tk" text-anchor="end">340</text>
<rect x="71.55" y="439.3" width="263.05" height="132.3" fill="none" stroke="#262626" stroke-width="0.72"/>
<text x="203.38" y="624.2" class="lb" text-anchor="middle" letter-spacing="0.2">Time (s)</text>
<text x="78.55" y="460.7" class="pl">(e)</text>
<text transform="translate(16.3,505.45) rotate(-90)" class="lb" text-anchor="middle">C<tspan class="sb" dy="9.2" letter-spacing="1.0">CO2</tspan><tspan dy="-9.2"> </tspan>(ppm)</text>
<text x="419" y="596.45" class="tk" text-anchor="middle">0</text>
<path d="M514.2,571.6v-3.0M514.2,439.3v3.0" stroke="#262626" stroke-width="0.72"/>
<text x="513.7" y="596.45" class="tk" text-anchor="middle">1000</text>
<path d="M608.9,571.6v-3.0M608.9,439.3v3.0" stroke="#262626" stroke-width="0.72"/>
<text x="608.4" y="596.45" class="tk" text-anchor="middle">2000</text>
<path d="M419.5,468.7h3.0M683.4,468.7h-3.0" stroke="#262626" stroke-width="0.72"/>
<text x="412.3" y="475.8" class="tk" text-anchor="end">1.4</text>
<path d="M419.5,500.5h3.0M683.4,500.5h-3.0" stroke="#262626" stroke-width="0.72"/>
<text x="412.3" y="507.6" class="tk" text-anchor="end">1.3</text>
<path d="M419.5,532.4h3.0M683.4,532.4h-3.0" stroke="#262626" stroke-width="0.72"/>
<text x="412.3" y="539.5" class="tk" text-anchor="end">1.2</text>
<path d="M419.5,564.3h3.0M683.4,564.3h-3.0" stroke="#262626" stroke-width="0.72"/>
<text x="412.3" y="571.4" class="tk" text-anchor="end">1.1</text>
<rect x="419.5" y="439.3" width="263.9" height="132.3" fill="none" stroke="#262626" stroke-width="0.72"/>
<text x="551.75" y="624.2" class="lb" text-anchor="middle" letter-spacing="0.2">Time (s)</text>
<text x="426.5" y="460.7" class="pl">(f)</text>
<text transform="translate(368.3,505.45) rotate(-90)" class="lb" text-anchor="middle">C<tspan class="sb" dy="9.2" letter-spacing="0.5">H2O</tspan><tspan dy="-9.2"> </tspan>(ppm)</text>
<text x="420.6" y="435.4" class="tk" style="font-size:19.5px"><tspan dy="1.6">×</tspan><tspan dy="-1.6">10</tspan><tspan dy="-9.6" style="font-size:14.3px">4</tspan></text>
</svg>
</body></html>
